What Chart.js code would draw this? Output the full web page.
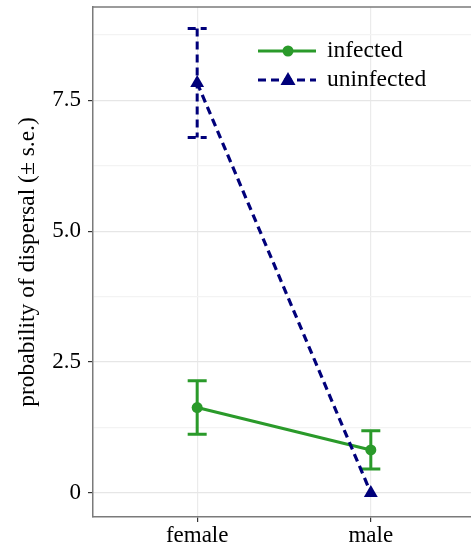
<!DOCTYPE html>
<html><head><meta charset="utf-8">
<script src="https://cdn.jsdelivr.net/npm/chart.js@4/dist/chart.umd.min.js"></script>
<style>html,body{margin:0;padding:0;overflow:hidden;background:#fff}canvas{display:block}</style>
</head><body>
<canvas id="c" width="478" height="548"></canvas>
<script>
const categories = ['female', 'male'];
const seriesNames = ['infected', 'uninfected'];
const infectedMean = [1.63, 0.82];
const infectedSE = [0.51, 0.365];
const uninfectedMean = [7.83, 0.0];
const uninfectedSE = [1.04, 0.0];
const yTicks = [0, 1.25, 2.5, 3.75, 5.0, 6.25, 7.5, 8.75];
const yTickLabels = ['0', '', '2.5', '', '5.0', '', '7.5', ''];

const GREEN = '#2a9a2a';
const NAVY = '#00007a';
const FONT = "'Liberation Serif', 'Times New Roman', serif";

function pts(arr){ return arr.map((v,i)=>({x:i+1, y:v})); }

const errorBars = {
  id: 'errorBars',
  beforeDatasetsDraw(chart){
    const {ctx, scales:{x,y}} = chart;
    const sets = [
      {m: infectedMean, s: infectedSE, c: GREEN, dash: []},
      {m: uninfectedMean, s: uninfectedSE, c: NAVY, dash: [8,5]}
    ];
    ctx.save();
    sets.forEach(st=>{
      ctx.strokeStyle = st.c; ctx.lineWidth = 3; ctx.setLineDash(st.dash);
      st.m.forEach((v,i)=>{
        if (st.s[i] === 0) return;
        const px = x.getPixelForValue(i+1);
        const hi = y.getPixelForValue(v+st.s[i]);
        const lo = y.getPixelForValue(v-st.s[i]);
        const hw = 9.5;
        ctx.beginPath();
        ctx.moveTo(px-hw, hi); ctx.lineTo(px+hw, hi);
        ctx.moveTo(px, hi); ctx.lineTo(px, lo);
        ctx.moveTo(px-hw, lo); ctx.lineTo(px+hw, lo);
        ctx.stroke();
      });
    });
    ctx.restore();
  },
  afterDraw(chart){
    const {ctx, chartArea:a} = chart;
    ctx.save();
    ctx.strokeStyle = '#7a7a7a'; ctx.lineWidth = 1.3;
    ctx.beginPath(); ctx.moveTo(a.left, a.top); ctx.lineTo(a.right, a.top); ctx.stroke();
    const lx0 = 258, lx1 = 316, mx = 288;
    const rows = [{y:51, c:GREEN, dash:[], shape:'circle'}, {y:80, c:NAVY, dash:[8,5], shape:'tri'}];
    rows.forEach((r,i)=>{
      ctx.strokeStyle = r.c; ctx.fillStyle = r.c; ctx.lineWidth = 3; ctx.setLineDash(r.dash);
      ctx.beginPath(); ctx.moveTo(lx0, r.y); ctx.lineTo(lx1, r.y); ctx.stroke();
      ctx.setLineDash([]);
      ctx.beginPath();
      if (r.shape === 'circle') { ctx.arc(mx, r.y, 5.5, 0, Math.PI*2); }
      else { ctx.moveTo(mx, r.y-8); ctx.lineTo(mx+7.5, r.y+5); ctx.lineTo(mx-7.5, r.y+5); ctx.closePath(); }
      ctx.fill();
      ctx.fillStyle = '#000'; ctx.font = '23.5px ' + FONT; ctx.textBaseline = 'middle'; ctx.textAlign = 'left';
      ctx.fillText(seriesNames[i], 327, r.y);
    });
    ctx.restore();
  }
};

new Chart(document.getElementById('c'), {
  type: 'line',
  data: {
    datasets: [
      {
        label: seriesNames[1], data: pts(uninfectedMean), borderColor: NAVY, backgroundColor: NAVY,
        borderWidth: 3.2, borderDash: [8,5], pointStyle: 'triangle', pointRadius: 8, pointBorderWidth: 0,
        tension: 0
      },
      {
        label: seriesNames[0], data: pts(infectedMean), borderColor: GREEN, backgroundColor: GREEN,
        borderWidth: 3, pointStyle: 'circle', pointRadius: 5.5, pointBorderWidth: 0,
        tension: 0
      }
    ]
  },
  options: {
    responsive: false, animation: false,
    clip: false,
    layout: { autoPadding: false, padding: { top: 7, right: 3, left: 0, bottom: 0 } },
    plugins: { legend: { display: false }, tooltip: { enabled: false } },
    scales: {
      x: {
        type: 'linear', min: 0.4, max: 2.6,
        afterBuildTicks(s){ s.ticks = categories.map((c,i)=>({value:i+1})); },
        afterFit(s){ s.height = 31; s.paddingLeft = 0; s.paddingRight = 0; },
        ticks: { callback: (v)=> categories[Math.round(v)-1] ?? '', color: '#000', font: { family: FONT, size: 23 }, padding: 0, maxRotation: 0, autoSkip: false },
        grid: { color: '#ebebeb', lineWidth: 1.2, tickLength: 5, tickColor: '#333' },
        border: { color: '#7a7a7a', width: 1.5 }
      },
      y: {
        type: 'linear', min: -0.46, max: 9.28,
        afterBuildTicks(s){ s.ticks = yTicks.map(v=>({value:v})); },
        afterFit(s){ s.width = 93; s.paddingTop = 0; s.paddingBottom = 0; },
        ticks: {
          callback: (v)=> { const i = yTicks.indexOf(v); return i >= 0 ? yTickLabels[i] : ''; },
          color: '#000', font: { family: FONT, size: 23 }, padding: 7, autoSkip: false
        },
        grid: {
          color: (c)=> (c.tick && yTickLabels[yTicks.indexOf(c.tick.value)] !== '') ? '#e6e6e6' : '#f3f3f3',
          lineWidth: 1.2, tickLength: 5,
          tickColor: (c)=> (c.tick && yTickLabels[yTicks.indexOf(c.tick.value)] !== '') ? '#333' : 'rgba(0,0,0,0)'
        },
        border: { color: '#7a7a7a', width: 1.5 },
        title: { display: true, text: 'probability of dispersal (± s.e.)', color: '#000', font: { family: FONT, size: 23.5 }, padding: { top: 14, bottom: 0 } }
      }
    }
  },
  plugins: [errorBars]
});
</script>
</body></html>
